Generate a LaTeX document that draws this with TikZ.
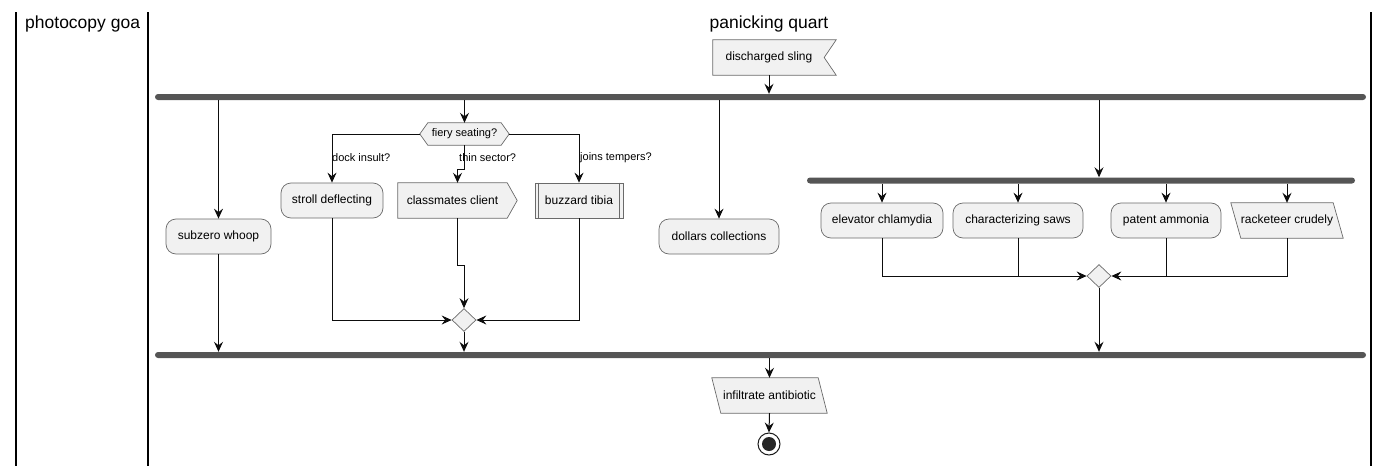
\documentclass[tikz,border=0pt]{standalone}
\usepackage{fontspec}
\setmainfont{Liberation Sans}
\usetikzlibrary{arrows.meta,shapes.geometric,calc}
\definecolor{boxfill}{HTML}{F1F1F1}
\definecolor{boxline}{HTML}{6A6A6A}
\definecolor{barcol}{HTML}{555555}
\tikzset{
  every node/.style={font=\fontsize{12}{14}\selectfont},
  rbox/.style={draw=boxline, fill=boxfill, line width=0.7pt, rounded corners=10pt, minimum height=35pt, inner sep=0pt},
  tbox/.style={minimum height=35pt, inner sep=0pt},
  outline/.style={draw=boxline, fill=boxfill, line width=0.7pt},
  bar/.style={fill=barcol, rounded corners=3pt, minimum height=6pt, inner sep=0pt},
  merge/.style={diamond, draw=boxline, fill=boxfill, line width=0.7pt, minimum width=24pt, minimum height=23pt, inner sep=0pt},
  arr/.style={draw=black!95, line width=1pt, -{Stealth[length=10pt,width=9pt,inset=3.5pt]}},
  conn/.style={draw=black!95, line width=1pt},
  lane/.style={draw=black, line width=1.4pt},
  guard/.style={font=\fontsize{11}{13}\selectfont, anchor=west, inner sep=0pt},
  title/.style={font=\fontsize{17.5}{20}\selectfont, inner sep=0pt}
}
\begin{document}
\begin{tikzpicture}[x=1pt,y=-1pt]
\useasboundingbox (0,0) rectangle (1390,466);
% swimlanes
\draw[lane] (16,12) -- (16,466);
\draw[lane] (148,12) -- (148,466);
\draw[lane] (1371,12) -- (1371,466);
\node[title, anchor=west] (lane1) at (25,24) {photocopy goa};
\node[title] (lane2) at (769,24) {panicking quart};

% start: discharged sling (receive shape)
\node[tbox, minimum width=123pt] (sling) at (774.5,57.5) {};
\path[outline] (sling.north west) -- (sling.north east) -- ([xshift=-12pt]sling.east) -- (sling.south east) -- (sling.south west) -- cycle;
\node at (769,57.5) (slingtxt) {discharged sling};

% bars
\node[bar, minimum width=1211pt] (fork1) at (760.5,97) {};
\node[bar, minimum width=1211pt] (join1) at (760.5,355) {};
\node[bar, minimum width=548pt] (fork2) at (1081,180.5) {};

% left branch
\node[rbox, minimum width=105pt] (subzero) at (218.5,236.5) {subzero whoop};

% hexagon
\node[minimum width=89pt, minimum height=22pt, inner sep=0pt] (hex) at (464.5,134) {};
\path[outline] (hex.west) -- ([xshift=8pt]hex.north west) -- ([xshift=-8pt]hex.north east) -- (hex.east) -- ([xshift=-8pt]hex.south east) -- ([xshift=8pt]hex.south west) -- cycle;
\node at (464.5,134) (hextxt) {\fontsize{11}{13}\selectfont fiery seating?};

\node[rbox, minimum width=102pt] (stroll) at (332,200.5) {stroll deflecting};
\node[tbox, minimum width=119pt] (classm) at (457.5,200.5) {};
\path[outline] (classm.north west) -- ([xshift=-10pt]classm.north east) -- (classm.east) -- ([xshift=-10pt]classm.south east) -- (classm.south west) -- cycle;
\node at (452.5,200.5) (classmtxt) {classmates client};
\node[tbox, minimum width=88pt, outline] (buzz) at (579,200.5) {buzzard tibia};
\draw[boxline, line width=0.7pt] ([xshift=4pt]buzz.north west) -- ([xshift=4pt]buzz.south west);
\draw[boxline, line width=0.7pt] ([xshift=-4pt]buzz.north east) -- ([xshift=-4pt]buzz.south east);

\node[merge] (d1) at (464,320) {};

\node[rbox, minimum width=120pt] (dollars) at (719,236.5) {dollars collections};

% inner fork
\node[rbox, minimum width=122pt] (elev) at (882,220.5) {elevator chlamydia};
\node[rbox, minimum width=130pt] (chars) at (1018,220.5) {characterizing saws};
\node[rbox, minimum width=110pt] (patent) at (1166,220.5) {patent ammonia};
\node[tbox, minimum width=112pt] (rack) at (1287,220.5) {};
\path[outline] (rack.north west) -- ([xshift=-10pt]rack.north east) -- (rack.south east) -- ([xshift=10pt]rack.south west) -- cycle;
\node at (1287,220.5) (racktxt) {racketeer crudely};
\node[merge] (d2) at (1099,276) {};

% end
\node[tbox, minimum width=115pt] (infil) at (769.5,395.5) {};
\path[outline] (infil.north west) -- ([xshift=-9pt]infil.north east) -- (infil.south east) -- ([xshift=9pt]infil.south west) -- cycle;
\node at (769.5,395.5) (infiltxt) {infiltrate antibiotic};
\node[circle, draw=black!90, line width=1pt, fill=white, minimum size=22pt, inner sep=0pt] (final) at (769,444) {};
\fill[black!85] (final.center) circle (7pt);

% connectors
\draw[arr] (sling.south -| slingtxt) -- (fork1.north -| slingtxt);
\draw[arr] (fork1.south -| subzero) -- (subzero.north);
\draw[arr] (subzero.south) -- (join1.north -| subzero);
\draw[arr] (fork1.south -| hex) -- (hex.north);
\draw[arr] (hex.west) -| (stroll.north);
\draw[arr] (hex.south) -- ++(0,24) -| (classm.north);
\draw[arr] (hex.east) -| (buzz.north);
\node[guard] (g1) at (332,158) {dock insult?};
\node[guard] (g2) at (459,158) {thin sector?};
\node[guard] (g3) at (580,158) {joins tempers?};
\draw[arr] (stroll.south) |- (d1.west);
\draw[arr] (classm.south) -- ++(0,47) -| (d1.north);
\draw[arr] (buzz.south) |- (d1.east);
\draw[arr] (d1.south) -- (join1.north -| d1);
\draw[arr] (fork1.south -| dollars) -- (dollars.north);
\draw[arr] (fork1.south -| d2) -- (fork2.north -| d2);
\draw[arr] (fork2.south -| elev) -- (elev.north);
\draw[arr] (fork2.south -| chars) -- (chars.north);
\draw[arr] (fork2.south -| patent) -- (patent.north);
\draw[arr] (fork2.south -| rack) -- (rack.north);
\draw[arr] (elev.south) |- (d2.west);
\draw[conn] (chars.south) -- (chars.south |- d2.west);
\draw[arr] (rack.south) |- (d2.east);
\draw[conn] (patent.south) -- (patent.south |- d2.east);
\draw[arr] (d2.south) -- (join1.north -| d2);
\draw[arr] (join1.south -| infil) -- (infil.north);
\draw[arr] (infil.south) -- (final.north);
\end{tikzpicture}
\end{document}
